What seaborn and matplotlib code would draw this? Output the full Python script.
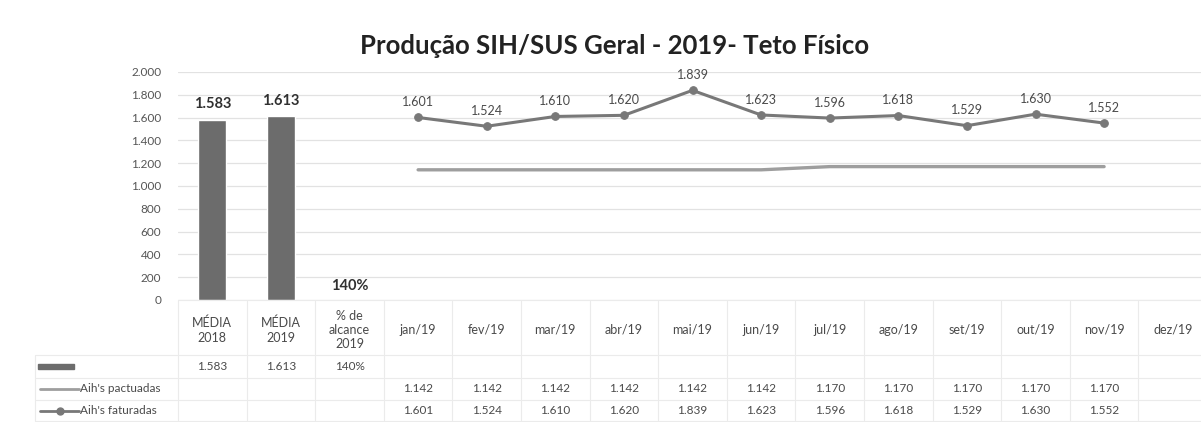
import matplotlib
matplotlib.use("Agg")
import matplotlib.pyplot as plt
import matplotlib.transforms as mtransforms
from matplotlib.lines import Line2D
from matplotlib.patches import Rectangle
import pandas as pd
import seaborn as sns

# ---- data ----
categories = ["MÉDIA\n2018", "MÉDIA\n2019", "% de\nalcance\n2019",
              "jan/19", "fev/19", "mar/19", "abr/19", "mai/19", "jun/19",
              "jul/19", "ago/19", "set/19", "out/19", "nov/19", "dez/19"]
bar_cats = ["MÉDIA\n2018", "MÉDIA\n2019"]
bar_values = [1583, 1613]
alcance_label = "140%"
months = ["jan/19", "fev/19", "mar/19", "abr/19", "mai/19", "jun/19",
          "jul/19", "ago/19", "set/19", "out/19", "nov/19"]
pactuadas = [1142, 1142, 1142, 1142, 1142, 1142, 1170, 1170, 1170, 1170, 1170]
faturadas = [1601, 1524, 1610, 1620, 1839, 1623, 1596, 1618, 1529, 1630, 1552]
y_ticks = [0, 200, 400, 600, 800, 1000, 1200, 1400, 1600, 1800, 2000]


def br(v):
    return f"{v:,}".replace(",", ".")


sns.set_theme(style="white")
plt.rcParams["font.family"] = ["Lato", "DejaVu Sans"]

W, H = 1201, 422
fig = plt.figure(figsize=(W / 100, H / 100), dpi=100)
fig.patch.set_facecolor("white")


def fx(px):
    return px / W


def fy(py):
    return 1 - py / H


ax_left, ax_right, ax_top, ax_bot = 178, 1207, 72, 300
ax = fig.add_axes([fx(ax_left), fy(ax_bot), fx(ax_right - ax_left), (ax_bot - ax_top) / H])

text_c = "#4a4a4a"
bar_c = "#6c6c6c"
pact_c = "#9e9e9e"
fat_c = "#787878"
grid_c = "#e2e2e2"

# bars
bar_df = pd.DataFrame({"cat": bar_cats, "val": bar_values})
sns.barplot(data=bar_df, x="cat", y="val", order=categories, color=bar_c,
            width=0.41, saturation=1, ax=ax, zorder=3)

# lines
pos = {c: i for i, c in enumerate(categories)}
line_df = pd.DataFrame({"x": [pos[m] for m in months],
                        "pact": pactuadas, "fat": faturadas})
sns.lineplot(data=line_df, x="x", y="pact", color=pact_c, linewidth=2.4,
             ax=ax, zorder=4)
sns.lineplot(data=line_df, x="x", y="fat", color=fat_c, linewidth=2.2,
             marker="o", markersize=5.5, markeredgecolor=fat_c, ax=ax, zorder=5)

ax.set_xlim(-0.5, len(categories) - 0.5)
ax.set_ylim(0, 2000)
ax.set_yticks(y_ticks)
ax.set_yticklabels([br(v) for v in y_ticks], fontsize=8.5, color="#555555")
ax.tick_params(axis="y", length=0, pad=12)
ax.set_xticks([])
ax.set_xlabel("")
ax.set_ylabel("")
for s in ax.spines.values():
    s.set_visible(False)
ax.grid(axis="y", color=grid_c, linewidth=0.9, zorder=0)
ax.set_axisbelow(True)

# labels
for c, v in zip(bar_cats, bar_values):
    ax.annotate(br(v), (pos[c], v), xytext=(0, 11), textcoords="offset points",
                ha="center", va="center", fontsize=10.5, fontweight="bold", color="#303030")
ax.annotate(alcance_label, (pos["% de\nalcance\n2019"], 0), xytext=(0, 10),
            textcoords="offset points", ha="center", va="center",
            fontsize=10.5, fontweight="bold", color="#303030")
for m, v in zip(months, faturadas):
    ax.annotate(br(v), (pos[m], v), xytext=(0, 11), textcoords="offset points",
                ha="center", va="center", fontsize=9, color=text_c)

fig.text(fx(615), fy(46), "Produção SIH/SUS Geral - 2019- Teto Físico",
         ha="center", va="center", fontsize=18.5, fontweight="bold", color="#222222")

# ---- data table ----
blend = mtransforms.blended_transform_factory(ax.transData, fig.transFigure)
tbl_c = "#ebebeb"
header_y, row_y = 330, [366, 389, 411]
h_lines = [355, 378, 400, 421]
for i in range(len(categories) + 1):
    x = i - 0.5
    fig.add_artist(Line2D([x, x], [fy(ax_bot), fy(421)], transform=blend,
                          color=tbl_c, linewidth=0.8))
fig.add_artist(Line2D([fx(35), fx(35)], [fy(355), fy(421)],
                      transform=fig.transFigure, color=tbl_c, linewidth=0.8))
for yy in h_lines:
    fig.add_artist(Line2D([fx(35), 1], [fy(yy), fy(yy)],
                          transform=fig.transFigure, color=tbl_c, linewidth=0.8))
fig.add_artist(Line2D([fx(ax_left), 1], [fy(ax_bot), fy(ax_bot)],
                      transform=fig.transFigure, color=tbl_c, linewidth=0.8))

for c in categories:
    fig.text(pos[c], fy(header_y), c, transform=blend, ha="center", va="center",
             fontsize=9, color=text_c, linespacing=1.25)

row1 = [br(v) for v in bar_values] + [alcance_label]
for c, t in zip(categories[:3], row1):
    fig.text(pos[c], fy(row_y[0]), t, transform=blend, ha="center", va="center",
             fontsize=8.5, color=text_c)
for m, p, f in zip(months, pactuadas, faturadas):
    fig.text(pos[m], fy(row_y[1]), br(p), transform=blend, ha="center",
             va="center", fontsize=8.5, color=text_c)
    fig.text(pos[m], fy(row_y[2]), br(f), transform=blend, ha="center",
             va="center", fontsize=8.5, color=text_c)

# legend keys
fig.add_artist(Rectangle((fx(38), fy(369)), fx(36), 5 / H,
                         transform=fig.transFigure, color=bar_c))
fig.add_artist(Line2D([fx(40), fx(79)], [fy(389), fy(389)],
                      transform=fig.transFigure, color=pact_c, linewidth=2))
fig.add_artist(Line2D([fx(40), fx(79)], [fy(411), fy(411)],
                      transform=fig.transFigure, color=fat_c, linewidth=2))
fig.add_artist(Line2D([fx(60)], [fy(411)], transform=fig.transFigure,
                      color=fat_c, marker="o", markersize=5))
fig.text(fx(80), fy(389), "Aih's pactuadas", ha="left", va="center",
         fontsize=8.5, color=text_c)
fig.text(fx(80), fy(411), "Aih's faturadas", ha="left", va="center",
         fontsize=8.5, color=text_c)

fig.savefig("out.png", dpi=100, facecolor="white")
